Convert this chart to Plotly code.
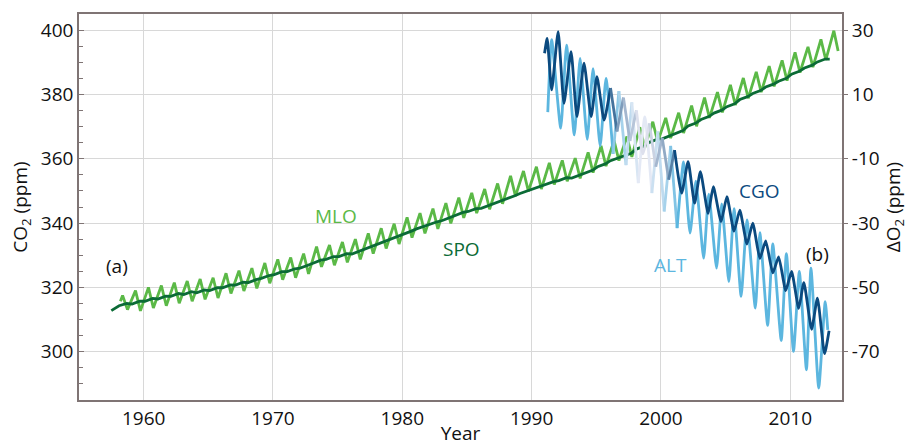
import plotly.graph_objects as go

# ---------------- data ----------------
# Mauna Loa CO2 (ppm): yearly seasonal maxima (~May) and minima (~Sep/Oct)
mlo_years = list(range(1958, 2014))
mlo_peak = [317.5, 319.0, 320.0, 320.6, 321.5, 322.0, 322.6, 323.0, 324.4, 325.2,
            326.0, 327.6, 328.7, 329.3, 330.5, 332.7, 333.2, 334.1, 335.0, 336.8,
            338.4, 339.8, 341.8, 343.1, 344.5, 346.2, 347.9, 349.4, 350.6, 352.3,
            354.7, 356.2, 357.5, 358.7, 359.5, 360.2, 362.0, 364.0, 365.7, 366.9,
            369.8, 371.5, 372.7, 374.3, 376.5, 379.0, 380.7, 383.0, 385.1, 387.0,
            388.8, 390.6, 393.1, 394.8, 397.1, 399.8]
mlo_trough = [313.1, 312.7, 313.6, 314.3, 315.1, 315.7, 316.3, 316.7, 318.1, 318.9,
              319.7, 321.3, 322.4, 323.0, 324.2, 326.4, 326.9, 327.8, 328.7, 330.5,
              332.1, 333.5, 335.5, 336.8, 338.2, 339.9, 341.6, 343.1, 344.3, 346.0,
              348.4, 349.9, 350.6, 352.0, 353.0, 353.9, 355.7, 357.7, 359.4, 360.6,
              363.5, 365.2, 366.4, 368.0, 370.1, 372.7, 374.4, 376.7, 378.8, 380.7,
              382.5, 384.3, 386.8, 388.5, 390.7]
mlo_first = (1958.2, 315.7)
mlo_last = (2013.7, 393.5)

# South Pole CO2 (ppm): yearly low (~Feb) and high (~Sep)
spo_years = list(range(1958, 2013))
spo_low = [314.3, 314.8, 315.7, 316.4, 317.2, 317.8, 318.3, 319.0, 319.9, 320.7,
           321.5, 322.8, 324.0, 324.9, 326.0, 327.6, 328.7, 329.6, 330.4, 331.9,
           333.5, 334.9, 336.6, 338.2, 339.5, 340.8, 342.4, 343.6, 344.6, 345.9,
           347.6, 349.2, 350.5, 352.0, 353.2, 354.0, 355.5, 357.5, 359.4, 360.8,
           363.0, 365.1, 366.2, 367.9, 370.2, 372.2, 374.2, 376.2, 378.4, 380.3,
           382.3, 384.1, 386.3, 388.2, 390.1]
spo_high = [315.0, 315.7, 316.6, 317.3, 318.1, 318.7, 319.2, 319.9, 320.8, 321.6,
            322.4, 323.7, 324.9, 325.8, 326.9, 328.5, 329.6, 330.5, 331.3, 332.8,
            334.4, 335.8, 337.5, 339.1, 340.4, 341.7, 343.3, 344.5, 345.5, 346.8,
            348.5, 350.1, 351.4, 352.9, 354.1, 354.9, 356.4, 358.4, 360.3, 361.7,
            363.9, 366.0, 367.1, 368.8, 371.1, 373.1, 375.1, 377.1, 379.3, 381.2,
            383.2, 385.0, 387.2, 389.1, 391.0]
spo_first = (1957.5, 312.8)
spo_last = (2013.05, 391.0)

# Cape Grim delta O2 (ppm), seasonal extremes
cgo_time = [1991.0, 1991.2, 1991.55, 1992.05, 1992.5, 1993.05, 1993.5, 1994.05, 1994.6, 1995.05,
            1995.6, 1996.1, 1996.6, 1997.1, 1997.6, 1998.1, 1998.6, 1999.1, 1999.6, 2000.1,
            2000.6, 2001.05, 2001.6, 2002.1, 2002.6, 2003.05, 2003.65, 2004.05, 2004.65, 2005.1,
            2005.65, 2006.1, 2006.65, 2007.1, 2007.65, 2008.1, 2008.65, 2009.1, 2009.65, 2010.1,
            2010.65, 2011.05, 2011.65, 2012.1, 2012.65, 2013.0]
cgo_o2 = [22.8, 27.4, 11.4, 29.5, 7.2, 23.3, 3.1, 19.7, 3.1, 15.5,
          2.0, 12.0, -1.5, 9.0, -4.5, 5.0, -8.5, 1.0, -12.5, -3.5,
          -16.5, -7.3, -20.7, -10.9, -23.8, -14.0, -27.0, -18.7, -29.5, -21.8,
          -32.5, -26.0, -36.5, -30.0, -41.0, -35.5, -45.5, -40.5, -51.0, -45.0,
          -56.5, -48.5, -63.0, -53.3, -70.6, -63.5]

# Alert delta O2 (ppm), seasonal extremes
alt_time = [1991.25, 1991.55, 1992.25, 1992.7, 1993.3, 1993.75, 1994.3, 1994.75, 1995.3, 1995.75,
            1996.3, 1996.75, 1997.3, 1997.75, 1998.25, 1998.75, 1999.3, 1999.75, 2000.25, 2000.75,
            2001.25, 2001.75, 2002.25, 2002.7, 2003.3, 2003.7, 2004.3, 2004.7, 2005.25, 2005.65,
            2006.2, 2006.65, 2007.3, 2007.65, 2008.25, 2008.65, 2009.3, 2009.7, 2010.25, 2010.7,
            2011.25, 2011.6, 2012.2, 2012.7, 2012.9]
alt_o2 = [4.5, 27.0, -0.5, 25.3, -2.6, 21.2, -4.0, 18.0, -6.0, 15.0,
          -8.5, 11.0, -12.0, 7.5, -17.6, 3.0, -20.7, -1.5, -26.4, -6.0,
          -31.6, -11.0, -33.1, -17.0, -40.9, -21.0, -44.0, -24.0, -48.2, -25.5,
          -52.8, -29.0, -56.4, -33.0, -61.8, -36.5, -66.5, -39.5, -69.9, -45.0,
          -75.6, -44.0, -81.3, -54.4, -63.2]

co2_ticks = [300, 320, 340, 360, 380, 400]
o2_ticks = [-70, -50, -30, -10, 10, 30]
o2_tick_text = ["-70", "-50", "-30", "-10", "10", "30"]
year_ticks = [1960, 1970, 1980, 1990, 2000, 2010]

# ---------------- styling ----------------
C_MLO = "#5bb947"
C_SPO = "#0b6b36"
C_CGO = "#0b4a7f"
C_ALT = "#5cb6df"
AXIS = "#7f7474"
GRID = "#d8d8d8"
FONT = "Open Sans"
FS = 19


def interleave(first, years, a, a_off, b, b_off, last):
    xs, ys = [first[0]], [first[1]]
    for i, yr in enumerate(years):
        xs.append(yr + a_off)
        ys.append(a[i])
        if i < len(b):
            xs.append(yr + b_off)
            ys.append(b[i])
    xs.append(last[0])
    ys.append(last[1])
    return xs, ys


def hex2rgb(h):
    h = h.lstrip("#")
    return tuple(int(h[i:i + 2], 16) for i in (0, 2, 4))


FADE_TO = (240, 238, 247)
FADE_CENTER = 1998.7
FADE_HALF = 2.6


def fade_weight(t):
    w = 1 - abs(t - FADE_CENTER) / FADE_HALF
    return max(0.0, min(1.0, w)) ** 0.55 * 0.95


def faded_traces(times, vals, color):
    base = hex2rgb(color)
    traces = []
    groups = []
    for i in range(len(times) - 1):
        tm = 0.5 * (times[i] + times[i + 1])
        w = round(fade_weight(tm) * 12) / 12
        if groups and groups[-1][0] == w:
            groups[-1][1].append(i + 1)
        else:
            groups.append([w, [i, i + 1]])
    for w, idx in groups:
        rgb = tuple(int(round(base[k] * (1 - w) + FADE_TO[k] * w)) for k in range(3))
        traces.append(go.Scatter(
            x=[times[j] for j in idx], y=[vals[j] for j in idx],
            mode="lines", yaxis="y2", showlegend=False, hoverinfo="skip",
            line=dict(color="rgb(%d,%d,%d)" % rgb, width=2.8, shape="spline", smoothing=0.5),
        ))
    return traces


fig = go.Figure()

for tr in faded_traces(alt_time, alt_o2, C_ALT):
    fig.add_trace(tr)
for tr in faded_traces(cgo_time, cgo_o2, C_CGO):
    fig.add_trace(tr)

mx, my = interleave(mlo_first, mlo_years, mlo_peak, 0.37, mlo_trough, 0.75, mlo_last)
fig.add_trace(go.Scatter(x=mx, y=my, mode="lines", name="MLO", showlegend=False,
                         line=dict(color=C_MLO, width=2.8)))
sx, sy = interleave(spo_first, spo_years, spo_low, 0.1, spo_high, 0.7, spo_last)
fig.add_trace(go.Scatter(x=sx, y=sy, mode="lines", name="SPO", showlegend=False,
                         line=dict(color=C_SPO, width=2.8)))

labels = [
    ("MLO", 1974.85, 342.2, C_MLO),
    ("SPO", 1984.6, 332.0, C_SPO),
    ("(a)", 1957.9, 326.7, "#111111"),
    ("CGO", 2007.6, 350.0, C_CGO),
    ("ALT", 2000.75, 327.0, C_ALT),
    ("(b)", 2012.1, 330.4, "#111111"),
]
for txt, ax_, ay_, col in labels:
    fig.add_annotation(x=ax_, y=ay_, xref="x", yref="y", text=txt, showarrow=False,
                       font=dict(family=FONT, size=FS, color=col))

fig.update_layout(
    width=909, height=446,
    margin=dict(l=79, r=67, t=14, b=46),
    paper_bgcolor="white", plot_bgcolor="white",
    font=dict(family=FONT, size=FS, color="#111111"),
    xaxis=dict(range=[1955, 2014], tickvals=year_ticks, showgrid=True, gridcolor=GRID,
               gridwidth=1, showline=True, linecolor=AXIS, linewidth=1.5, mirror=True,
               ticks="", zeroline=False, automargin=False,
               title=dict(text="Year", standoff=9, font=dict(family=FONT, size=FS))),
    yaxis=dict(range=[285, 405], tickvals=co2_ticks, showgrid=True, gridcolor=GRID,
               gridwidth=1, showline=True, linecolor=AXIS, linewidth=1.5, mirror=True,
               ticks="inside", ticklen=5, tickcolor=AXIS, zeroline=False, automargin=False,
               minor=dict(dtick=5, tick0=0, ticks="inside", ticklen=4, tickcolor=AXIS,
                          showgrid=False),
               title=dict(text="CO<sub>2</sub> (ppm)", standoff=8,
                          font=dict(family=FONT, size=FS))),
    yaxis2=dict(range=[-85, 35], tickvals=o2_ticks, ticktext=o2_tick_text,
                overlaying="y", side="right", showgrid=False, showline=False,
                ticks="outside", ticklen=5, tickcolor=AXIS, zeroline=False, automargin=False,
                title=dict(text="ΔO<sub>2</sub> (ppm)", standoff=4,
                           font=dict(family=FONT, size=FS))),
)

fig.write_html(
    "out.html",
    config={"displayModeBar": False},
    post_script="document.body.style.margin='0px';document.body.style.padding='0px';"
                "document.body.style.overflow='hidden';",
)
